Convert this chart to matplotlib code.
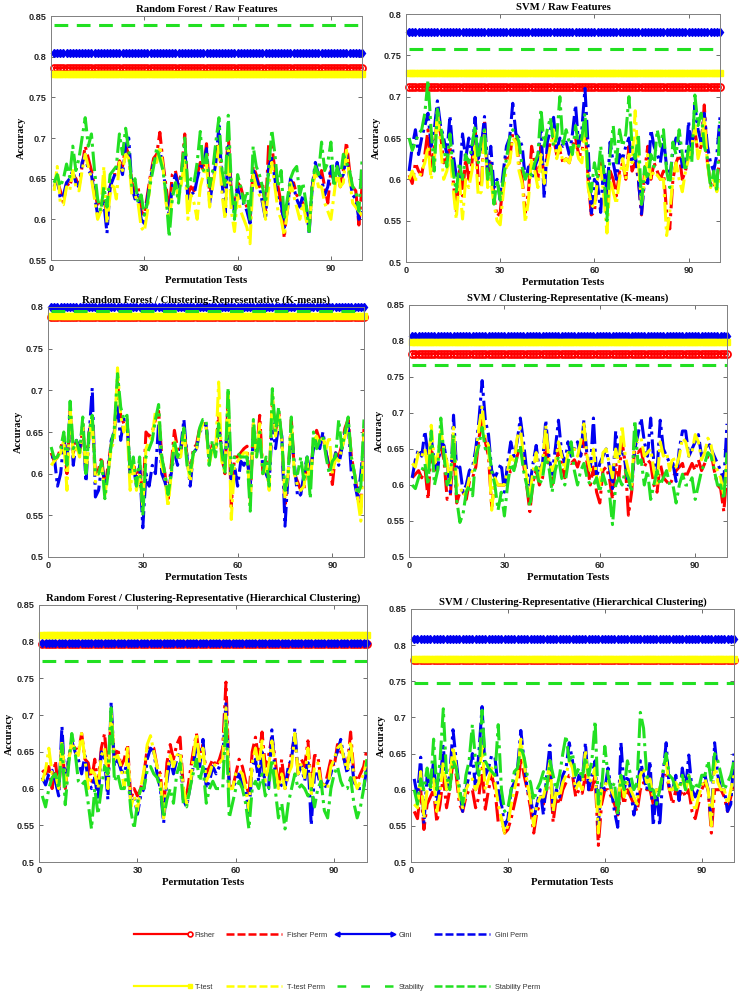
import matplotlib
matplotlib.use("Agg")
import matplotlib.pyplot as plt
import numpy as np
from matplotlib.lines import Line2D
from matplotlib.legend_handler import HandlerLine2D
from matplotlib.ticker import FormatStrFormatter

tests = np.arange(1, 101)

# ---------------- Random Forest / Raw Features
rf_raw_const = [0.786, 0.8045, 0.779, 0.8385]   # fisher, gini, t-test, stability
rf_raw_fisher_perm = [
    0.645, 0.648, 0.635, 0.62, 0.645, 0.64, 0.655, 0.65, 0.64, 0.665,
    0.69, 0.675, 0.66, 0.64, 0.615, 0.62, 0.625, 0.605, 0.64, 0.655,
    0.655, 0.672, 0.665, 0.69, 0.68, 0.645, 0.635, 0.64, 0.61, 0.605,
    0.63, 0.655, 0.675, 0.68, 0.707, 0.67, 0.64, 0.61, 0.655, 0.66,
    0.64, 0.66, 0.705, 0.63, 0.64, 0.635, 0.655, 0.67, 0.66, 0.693,
    0.63, 0.65, 0.68, 0.70, 0.65, 0.64, 0.705, 0.63, 0.615, 0.645,
    0.64, 0.625, 0.615, 0.6, 0.665, 0.655, 0.64, 0.645, 0.61, 0.693,
    0.69, 0.66, 0.64, 0.62, 0.577, 0.62, 0.64, 0.645, 0.63, 0.625,
    0.62, 0.61, 0.59, 0.64, 0.66, 0.65, 0.66, 0.64, 0.62, 0.66,
    0.65, 0.66, 0.64, 0.66, 0.695, 0.66, 0.64, 0.635, 0.593, 0.64]
rf_raw_gini_perm = [
    0.64, 0.65, 0.625, 0.63, 0.645, 0.65, 0.66, 0.645, 0.64, 0.67,
    0.68, 0.66, 0.655, 0.63, 0.605, 0.61, 0.62, 0.583, 0.64, 0.65,
    0.66, 0.67, 0.655, 0.69, 0.70, 0.64, 0.625, 0.63, 0.6, 0.595,
    0.625, 0.65, 0.67, 0.675, 0.685, 0.665, 0.63, 0.605, 0.64, 0.655,
    0.64, 0.655, 0.69, 0.625, 0.635, 0.63, 0.65, 0.665, 0.665, 0.687,
    0.62, 0.645, 0.67, 0.715, 0.645, 0.605, 0.69, 0.625, 0.61, 0.64,
    0.62, 0.62, 0.61, 0.595, 0.66, 0.65, 0.64, 0.62, 0.6, 0.665,
    0.675, 0.65, 0.62, 0.62, 0.59, 0.61, 0.65, 0.64, 0.625, 0.615,
    0.63, 0.62, 0.583, 0.64, 0.67, 0.655, 0.65, 0.63, 0.64, 0.665,
    0.645, 0.67, 0.65, 0.655, 0.68, 0.65, 0.63, 0.625, 0.6, 0.61]
rf_raw_ttest_perm = [
    0.635, 0.665, 0.62, 0.618, 0.64, 0.635, 0.66, 0.64, 0.635, 0.66,
    0.68, 0.665, 0.65, 0.625, 0.6, 0.61, 0.665, 0.595, 0.63, 0.645,
    0.625, 0.67, 0.66, 0.68, 0.675, 0.63, 0.63, 0.62, 0.59, 0.585,
    0.61, 0.65, 0.67, 0.67, 0.69, 0.665, 0.62, 0.6, 0.63, 0.645,
    0.625, 0.645, 0.675, 0.6, 0.63, 0.62, 0.6, 0.64, 0.655, 0.67,
    0.615, 0.64, 0.665, 0.69, 0.63, 0.6, 0.685, 0.61, 0.585, 0.63,
    0.61, 0.6, 0.59, 0.57, 0.655, 0.64, 0.63, 0.625, 0.6, 0.64,
    0.67, 0.64, 0.61, 0.6, 0.58, 0.61, 0.645, 0.63, 0.615, 0.6,
    0.62, 0.6, 0.588, 0.635, 0.66, 0.64, 0.64, 0.62, 0.61, 0.6,
    0.63, 0.66, 0.64, 0.645, 0.685, 0.65, 0.62, 0.615, 0.61, 0.605]
rf_raw_stab_perm = [
    0.645, 0.655, 0.64, 0.65, 0.668, 0.652, 0.69, 0.66, 0.675, 0.70,
    0.725, 0.69, 0.705, 0.66, 0.625, 0.61, 0.64, 0.615, 0.655, 0.66,
    0.665, 0.705, 0.68, 0.712, 0.685, 0.64, 0.65, 0.62, 0.63, 0.605,
    0.62, 0.645, 0.665, 0.688, 0.675, 0.66, 0.63, 0.578, 0.625, 0.645,
    0.62, 0.66, 0.70, 0.64, 0.65, 0.645, 0.67, 0.708, 0.66, 0.68,
    0.64, 0.66, 0.695, 0.725, 0.66, 0.64, 0.728, 0.64, 0.6, 0.655,
    0.64, 0.62, 0.635, 0.60, 0.69, 0.665, 0.655, 0.64, 0.62, 0.66,
    0.71, 0.68, 0.64, 0.66, 0.6, 0.625, 0.65, 0.66, 0.665, 0.63,
    0.645, 0.62, 0.585, 0.645, 0.665, 0.655, 0.695, 0.66, 0.67, 0.695,
    0.64, 0.665, 0.65, 0.68, 0.67, 0.66, 0.64, 0.635, 0.61, 0.672]

# ---------------- SVM / Raw Features
svm_raw_const = [0.7115, 0.7786, 0.729, 0.7576]
svm_raw_fisher_perm = [
    0.605, 0.595, 0.62, 0.61, 0.605, 0.63, 0.66, 0.61, 0.64, 0.675,
    0.655, 0.62, 0.625, 0.64, 0.6, 0.56, 0.61, 0.58, 0.625, 0.6,
    0.62, 0.66, 0.6, 0.59, 0.67, 0.6, 0.62, 0.58, 0.555, 0.56,
    0.6, 0.63, 0.625, 0.655, 0.65, 0.62, 0.6, 0.56, 0.585, 0.64,
    0.62, 0.6, 0.64, 0.6, 0.63, 0.645, 0.65, 0.63, 0.635, 0.62,
    0.625, 0.62, 0.64, 0.65, 0.63, 0.63, 0.67, 0.6, 0.557, 0.56,
    0.6, 0.62, 0.6, 0.56, 0.61, 0.6, 0.58, 0.61, 0.62, 0.6,
    0.64, 0.61, 0.62, 0.6, 0.557, 0.61, 0.64, 0.6, 0.62, 0.61,
    0.6, 0.61, 0.56, 0.54, 0.6, 0.62, 0.63, 0.6, 0.61, 0.63,
    0.64, 0.66, 0.63, 0.64, 0.69, 0.62, 0.595, 0.59, 0.6, 0.625]
svm_raw_gini_perm = [
    0.61, 0.64, 0.66, 0.63, 0.65, 0.665, 0.68, 0.64, 0.66, 0.695,
    0.665, 0.65, 0.63, 0.677, 0.63, 0.605, 0.6, 0.655, 0.625, 0.65,
    0.63, 0.675, 0.625, 0.64, 0.676, 0.61, 0.64, 0.59, 0.6, 0.575,
    0.61, 0.64, 0.65, 0.692, 0.655, 0.65, 0.64, 0.6, 0.615, 0.6,
    0.615, 0.625, 0.665, 0.577, 0.645, 0.66, 0.675, 0.635, 0.65, 0.64,
    0.645, 0.63, 0.655, 0.69, 0.64, 0.66, 0.71, 0.64, 0.556, 0.6,
    0.595, 0.56, 0.62, 0.58, 0.645, 0.62, 0.6, 0.63, 0.625, 0.64,
    0.65, 0.62, 0.63, 0.6, 0.558, 0.6, 0.595, 0.66, 0.64, 0.63,
    0.62, 0.65, 0.615, 0.6, 0.635, 0.65, 0.645, 0.615, 0.62, 0.67,
    0.63, 0.69, 0.66, 0.645, 0.68, 0.64, 0.62, 0.61, 0.63, 0.675]
svm_raw_ttest_perm = [
    0.6, 0.61, 0.6, 0.6, 0.61, 0.62, 0.64, 0.6, 0.62, 0.685,
    0.64, 0.6, 0.61, 0.63, 0.59, 0.552, 0.6, 0.552, 0.6, 0.59,
    0.61, 0.64, 0.58, 0.585, 0.66, 0.59, 0.6, 0.57, 0.55, 0.545,
    0.585, 0.615, 0.62, 0.65, 0.645, 0.61, 0.595, 0.548, 0.575, 0.625,
    0.61, 0.59, 0.63, 0.595, 0.62, 0.64, 0.66, 0.625, 0.64, 0.62,
    0.625, 0.62, 0.635, 0.64, 0.625, 0.62, 0.66, 0.59, 0.57, 0.565,
    0.6, 0.615, 0.58, 0.535, 0.6, 0.585, 0.57, 0.6, 0.625, 0.6,
    0.63, 0.62, 0.683, 0.62, 0.57, 0.6, 0.63, 0.6, 0.61, 0.605,
    0.6, 0.6, 0.532, 0.56, 0.6, 0.62, 0.6, 0.585, 0.61, 0.625,
    0.64, 0.665, 0.625, 0.64, 0.675, 0.62, 0.59, 0.6, 0.585, 0.6]
svm_raw_stab_perm = [
    0.65, 0.635, 0.645, 0.655, 0.66, 0.68, 0.72, 0.66, 0.61, 0.685,
    0.665, 0.64, 0.615, 0.655, 0.61, 0.585, 0.62, 0.6, 0.63, 0.62,
    0.64, 0.665, 0.62, 0.65, 0.66, 0.6, 0.62, 0.57, 0.6, 0.575,
    0.6, 0.625, 0.65, 0.66, 0.655, 0.645, 0.615, 0.6, 0.61, 0.605,
    0.62, 0.63, 0.685, 0.64, 0.66, 0.675, 0.64, 0.65, 0.70, 0.64,
    0.66, 0.645, 0.63, 0.665, 0.64, 0.65, 0.68, 0.6, 0.585, 0.62,
    0.6, 0.64, 0.61, 0.55, 0.63, 0.665, 0.62, 0.66, 0.64, 0.655,
    0.70, 0.64, 0.625, 0.655, 0.57, 0.615, 0.6, 0.63, 0.615, 0.66,
    0.64, 0.66, 0.61, 0.59, 0.645, 0.63, 0.66, 0.63, 0.61, 0.64,
    0.62, 0.702, 0.665, 0.68, 0.64, 0.625, 0.59, 0.61, 0.585, 0.67]

# ---------------- Random Forest / K-means
rf_km_const = [0.7885, 0.7995, 0.789, 0.7955]
rf_km_fisher_perm = [
    0.625, 0.615, 0.62, 0.63, 0.645, 0.6, 0.675, 0.625, 0.64, 0.625,
    0.655, 0.61, 0.65, 0.665, 0.6, 0.605, 0.62, 0.58, 0.61, 0.635,
    0.65, 0.71, 0.67, 0.66, 0.665, 0.6, 0.615, 0.59, 0.61, 0.565,
    0.65, 0.645, 0.65, 0.665, 0.675, 0.62, 0.6, 0.57, 0.61, 0.652,
    0.63, 0.625, 0.655, 0.62, 0.6, 0.63, 0.635, 0.655, 0.66, 0.66,
    0.615, 0.635, 0.625, 0.67, 0.62, 0.6, 0.69, 0.56, 0.62, 0.62,
    0.625, 0.63, 0.633, 0.57, 0.66, 0.625, 0.67, 0.6, 0.615, 0.59,
    0.69, 0.65, 0.675, 0.64, 0.56, 0.6, 0.665, 0.6, 0.59, 0.58,
    0.58, 0.62, 0.59, 0.64, 0.652, 0.64, 0.645, 0.625, 0.61, 0.587,
    0.625, 0.62, 0.635, 0.655, 0.665, 0.62, 0.6, 0.575, 0.56, 0.655]
rf_km_gini_perm = [
    0.62, 0.62, 0.585, 0.6, 0.64, 0.615, 0.675, 0.61, 0.64, 0.63,
    0.66, 0.59, 0.645, 0.703, 0.572, 0.58, 0.61, 0.59, 0.6, 0.64,
    0.65, 0.68, 0.64, 0.665, 0.665, 0.6, 0.61, 0.585, 0.61, 0.535,
    0.6, 0.585, 0.61, 0.6, 0.66, 0.6, 0.59, 0.575, 0.6, 0.625,
    0.61, 0.63, 0.665, 0.62, 0.585, 0.625, 0.63, 0.65, 0.655, 0.66,
    0.62, 0.63, 0.625, 0.655, 0.63, 0.61, 0.675, 0.59, 0.61, 0.585,
    0.615, 0.61, 0.62, 0.585, 0.645, 0.625, 0.64, 0.61, 0.6, 0.59,
    0.66, 0.63, 0.66, 0.645, 0.537, 0.6, 0.65, 0.61, 0.572, 0.575,
    0.6, 0.62, 0.6, 0.63, 0.64, 0.63, 0.65, 0.625, 0.605, 0.605,
    0.625, 0.61, 0.63, 0.65, 0.66, 0.6, 0.59, 0.57, 0.6, 0.64]
rf_km_ttest_perm = [
    0.61, 0.615, 0.62, 0.625, 0.64, 0.58, 0.68, 0.62, 0.635, 0.62,
    0.66, 0.6, 0.64, 0.67, 0.59, 0.6, 0.61, 0.575, 0.6, 0.63,
    0.64, 0.727, 0.67, 0.65, 0.66, 0.58, 0.61, 0.58, 0.6, 0.56,
    0.63, 0.64, 0.645, 0.675, 0.67, 0.61, 0.595, 0.56, 0.6, 0.64,
    0.62, 0.62, 0.65, 0.615, 0.59, 0.625, 0.63, 0.65, 0.66, 0.66,
    0.61, 0.63, 0.62, 0.71, 0.615, 0.6, 0.695, 0.545, 0.61, 0.615,
    0.62, 0.625, 0.625, 0.565, 0.66, 0.62, 0.66, 0.6, 0.61, 0.58,
    0.695, 0.645, 0.67, 0.64, 0.57, 0.6, 0.66, 0.6, 0.585, 0.58,
    0.585, 0.615, 0.585, 0.64, 0.645, 0.635, 0.645, 0.63, 0.645, 0.6,
    0.62, 0.615, 0.63, 0.645, 0.66, 0.62, 0.6, 0.57, 0.543, 0.65]
rf_km_stab_perm = [
    0.632, 0.618, 0.62, 0.63, 0.65, 0.61, 0.687, 0.63, 0.64, 0.625,
    0.668, 0.6, 0.65, 0.67, 0.6, 0.6, 0.615, 0.57, 0.6, 0.635,
    0.655, 0.72, 0.68, 0.665, 0.67, 0.6, 0.62, 0.585, 0.62, 0.55,
    0.62, 0.63, 0.64, 0.665, 0.683, 0.62, 0.6, 0.575, 0.6, 0.64,
    0.62, 0.63, 0.655, 0.61, 0.6, 0.625, 0.63, 0.655, 0.665, 0.665,
    0.61, 0.64, 0.62, 0.66, 0.625, 0.6, 0.703, 0.6, 0.62, 0.625,
    0.62, 0.62, 0.62, 0.555, 0.665, 0.62, 0.65, 0.6, 0.62, 0.585,
    0.702, 0.65, 0.68, 0.64, 0.58, 0.6, 0.668, 0.6, 0.6, 0.62,
    0.59, 0.62, 0.57, 0.65, 0.63, 0.64, 0.645, 0.62, 0.6, 0.615,
    0.62, 0.665, 0.63, 0.65, 0.668, 0.62, 0.6, 0.575, 0.585, 0.665]

# ---------------- SVM / K-means
svm_km_const = [0.7826, 0.807, 0.798, 0.766]
svm_km_fisher_perm = [
    0.61, 0.615, 0.62, 0.61, 0.625, 0.58, 0.655, 0.62, 0.63, 0.655,
    0.635, 0.58, 0.585, 0.655, 0.575, 0.59, 0.59, 0.58, 0.605, 0.61,
    0.625, 0.665, 0.69, 0.66, 0.64, 0.57, 0.605, 0.6, 0.6, 0.6,
    0.61, 0.62, 0.62, 0.64, 0.655, 0.63, 0.6, 0.563, 0.605, 0.62,
    0.6, 0.61, 0.66, 0.625, 0.6, 0.62, 0.65, 0.63, 0.61, 0.635,
    0.63, 0.635, 0.625, 0.64, 0.665, 0.63, 0.6, 0.625, 0.59, 0.575,
    0.62, 0.625, 0.61, 0.58, 0.63, 0.61, 0.66, 0.63, 0.558, 0.59,
    0.655, 0.645, 0.65, 0.625, 0.635, 0.63, 0.6, 0.59, 0.63, 0.61,
    0.605, 0.6, 0.61, 0.62, 0.625, 0.63, 0.61, 0.62, 0.63, 0.62,
    0.635, 0.62, 0.63, 0.64, 0.645, 0.62, 0.6, 0.595, 0.563, 0.62]
svm_km_gini_perm = [
    0.61, 0.635, 0.65, 0.64, 0.675, 0.64, 0.665, 0.63, 0.62, 0.66,
    0.655, 0.63, 0.59, 0.697, 0.62, 0.625, 0.59, 0.6, 0.62, 0.625,
    0.65, 0.69, 0.745, 0.69, 0.67, 0.62, 0.61, 0.62, 0.63, 0.59,
    0.63, 0.66, 0.64, 0.66, 0.693, 0.66, 0.62, 0.6, 0.63, 0.655,
    0.62, 0.63, 0.69, 0.64, 0.615, 0.65, 0.69, 0.645, 0.63, 0.66,
    0.64, 0.65, 0.66, 0.64, 0.69, 0.64, 0.62, 0.693, 0.61, 0.63,
    0.64, 0.65, 0.625, 0.595, 0.675, 0.64, 0.65, 0.63, 0.6, 0.6,
    0.65, 0.67, 0.693, 0.66, 0.64, 0.693, 0.63, 0.62, 0.69, 0.65,
    0.64, 0.63, 0.63, 0.605, 0.65, 0.675, 0.675, 0.64, 0.65, 0.66,
    0.67, 0.64, 0.645, 0.66, 0.65, 0.64, 0.63, 0.62, 0.605, 0.685]
svm_km_ttest_perm = [
    0.63, 0.625, 0.645, 0.64, 0.65, 0.62, 0.683, 0.63, 0.64, 0.675,
    0.65, 0.63, 0.6, 0.68, 0.6, 0.6, 0.585, 0.59, 0.61, 0.62,
    0.64, 0.68, 0.71, 0.665, 0.655, 0.565, 0.61, 0.6, 0.6, 0.6,
    0.62, 0.64, 0.63, 0.665, 0.68, 0.64, 0.61, 0.585, 0.62, 0.645,
    0.61, 0.63, 0.683, 0.635, 0.62, 0.63, 0.66, 0.64, 0.62, 0.645,
    0.645, 0.65, 0.64, 0.66, 0.685, 0.64, 0.62, 0.65, 0.61, 0.6,
    0.645, 0.65, 0.63, 0.61, 0.65, 0.63, 0.683, 0.64, 0.62, 0.6,
    0.67, 0.66, 0.665, 0.64, 0.645, 0.65, 0.62, 0.6, 0.66, 0.64,
    0.645, 0.62, 0.64, 0.625, 0.64, 0.665, 0.66, 0.64, 0.645, 0.67,
    0.66, 0.635, 0.645, 0.665, 0.655, 0.63, 0.62, 0.61, 0.585, 0.63]
svm_km_stab_perm = [
    0.6, 0.595, 0.61, 0.62, 0.63, 0.6, 0.675, 0.6, 0.62, 0.693,
    0.64, 0.6, 0.61, 0.67, 0.58, 0.548, 0.56, 0.59, 0.6, 0.585,
    0.64, 0.655, 0.68, 0.65, 0.655, 0.62, 0.6, 0.565, 0.59, 0.557,
    0.6, 0.63, 0.62, 0.64, 0.655, 0.62, 0.6, 0.57, 0.6, 0.625,
    0.6, 0.61, 0.64, 0.625, 0.59, 0.62, 0.64, 0.61, 0.6, 0.63,
    0.66, 0.62, 0.6, 0.62, 0.63, 0.61, 0.6, 0.6, 0.61, 0.59,
    0.615, 0.6, 0.59, 0.545, 0.6, 0.61, 0.6, 0.62, 0.61, 0.59,
    0.69, 0.63, 0.635, 0.6, 0.62, 0.58, 0.6, 0.62, 0.6, 0.61,
    0.62, 0.6, 0.6, 0.575, 0.6, 0.615, 0.6, 0.6, 0.61, 0.58,
    0.6, 0.62, 0.63, 0.645, 0.64, 0.62, 0.6, 0.6, 0.58, 0.645]

# ---------------- Random Forest / Hierarchical
rf_hc_const = [0.797, 0.7986, 0.809, 0.7737]
rf_hc_fisher_perm = [
    0.625, 0.62, 0.63, 0.6, 0.638, 0.595, 0.665, 0.6, 0.64, 0.66,
    0.655, 0.65, 0.675, 0.64, 0.635, 0.61, 0.64, 0.605, 0.655, 0.675,
    0.62, 0.7, 0.64, 0.655, 0.63, 0.64, 0.66, 0.585, 0.6, 0.59,
    0.6, 0.62, 0.655, 0.658, 0.655, 0.63, 0.62, 0.57, 0.635, 0.66,
    0.64, 0.66, 0.67, 0.6, 0.59, 0.62, 0.65, 0.675, 0.64, 0.66,
    0.62, 0.63, 0.64, 0.63, 0.64, 0.655, 0.745, 0.61, 0.6, 0.62,
    0.64, 0.63, 0.61, 0.59, 0.65, 0.67, 0.64, 0.677, 0.63, 0.645,
    0.67, 0.64, 0.6, 0.64, 0.6, 0.62, 0.65, 0.67, 0.62, 0.64,
    0.63, 0.665, 0.6, 0.645, 0.645, 0.61, 0.6, 0.62, 0.64, 0.63,
    0.66, 0.65, 0.64, 0.63, 0.677, 0.62, 0.61, 0.62, 0.63, 0.655]
rf_hc_gini_perm = [
    0.615, 0.605, 0.62, 0.625, 0.61, 0.59, 0.685, 0.6, 0.64, 0.665,
    0.65, 0.64, 0.62, 0.645, 0.61, 0.6, 0.615, 0.585, 0.65, 0.64,
    0.585, 0.718, 0.63, 0.64, 0.625, 0.62, 0.64, 0.58, 0.59, 0.565,
    0.59, 0.6, 0.64, 0.655, 0.65, 0.62, 0.6, 0.553, 0.61, 0.64,
    0.62, 0.64, 0.65, 0.585, 0.575, 0.6, 0.63, 0.66, 0.63, 0.667,
    0.6, 0.61, 0.63, 0.62, 0.63, 0.64, 0.718, 0.6, 0.6, 0.61,
    0.62, 0.605, 0.6, 0.565, 0.63, 0.64, 0.61, 0.65, 0.6, 0.6,
    0.68, 0.62, 0.6, 0.605, 0.6, 0.63, 0.64, 0.682, 0.62, 0.63,
    0.61, 0.64, 0.55, 0.62, 0.62, 0.6, 0.6, 0.61, 0.62, 0.64,
    0.65, 0.667, 0.64, 0.62, 0.655, 0.61, 0.6, 0.6, 0.6, 0.63]
rf_hc_ttest_perm = [
    0.61, 0.625, 0.655, 0.62, 0.62, 0.6, 0.665, 0.605, 0.635, 0.665,
    0.65, 0.645, 0.675, 0.64, 0.6, 0.625, 0.62, 0.6, 0.645, 0.655,
    0.6, 0.705, 0.64, 0.645, 0.63, 0.6, 0.655, 0.575, 0.59, 0.57,
    0.6, 0.625, 0.66, 0.672, 0.65, 0.63, 0.615, 0.56, 0.62, 0.645,
    0.63, 0.645, 0.65, 0.6, 0.58, 0.6, 0.64, 0.675, 0.635, 0.655,
    0.61, 0.62, 0.635, 0.63, 0.635, 0.64, 0.71, 0.6, 0.6, 0.62,
    0.625, 0.62, 0.6, 0.57, 0.635, 0.655, 0.63, 0.665, 0.61, 0.63,
    0.665, 0.63, 0.6, 0.62, 0.6, 0.62, 0.63, 0.675, 0.62, 0.635,
    0.615, 0.655, 0.59, 0.63, 0.635, 0.605, 0.605, 0.6, 0.63, 0.64,
    0.655, 0.66, 0.64, 0.625, 0.665, 0.615, 0.6, 0.61, 0.62, 0.64]
rf_hc_stab_perm = [
    0.59, 0.575, 0.6, 0.615, 0.62, 0.6, 0.66, 0.578, 0.63, 0.675,
    0.65, 0.61, 0.605, 0.61, 0.58, 0.545, 0.6, 0.565, 0.6, 0.63,
    0.62, 0.71, 0.61, 0.62, 0.6, 0.6, 0.625, 0.57, 0.545, 0.58,
    0.6, 0.6, 0.625, 0.63, 0.62, 0.615, 0.6, 0.56, 0.585, 0.6,
    0.58, 0.62, 0.635, 0.58, 0.575, 0.6, 0.62, 0.64, 0.61, 0.63,
    0.58, 0.6, 0.61, 0.6, 0.6, 0.6, 0.695, 0.56, 0.58, 0.6,
    0.61, 0.6, 0.58, 0.545, 0.6, 0.61, 0.6, 0.62, 0.59, 0.6,
    0.64, 0.6, 0.56, 0.58, 0.545, 0.58, 0.6, 0.62, 0.6, 0.605,
    0.6, 0.59, 0.6, 0.575, 0.6, 0.61, 0.57, 0.56, 0.6, 0.62,
    0.63, 0.61, 0.6, 0.6, 0.615, 0.58, 0.56, 0.575, 0.6, 0.64]

# ---------------- SVM / Hierarchical
svm_hc_const = [0.780, 0.8085, 0.7805, 0.748]
svm_hc_fisher_perm = [
    0.57, 0.56, 0.6, 0.545, 0.58, 0.59, 0.6, 0.555, 0.58, 0.62,
    0.575, 0.6, 0.64, 0.62, 0.58, 0.57, 0.59, 0.6, 0.6, 0.575,
    0.59, 0.63, 0.573, 0.6, 0.62, 0.6, 0.555, 0.56, 0.54, 0.545,
    0.56, 0.58, 0.6, 0.645, 0.62, 0.6, 0.575, 0.54, 0.57, 0.58,
    0.58, 0.6, 0.63, 0.555, 0.59, 0.58, 0.6, 0.61, 0.62, 0.62,
    0.59, 0.6, 0.595, 0.62, 0.6, 0.6, 0.62, 0.523, 0.58, 0.6,
    0.6, 0.59, 0.58, 0.565, 0.6, 0.58, 0.6, 0.59, 0.58, 0.57,
    0.6, 0.61, 0.6, 0.6, 0.58, 0.59, 0.6, 0.62, 0.625, 0.6,
    0.58, 0.6, 0.59, 0.6, 0.59, 0.6, 0.57, 0.56, 0.58, 0.6,
    0.61, 0.6, 0.54, 0.6, 0.6, 0.6, 0.59, 0.57, 0.59, 0.605]
svm_hc_gini_perm = [
    0.615, 0.59, 0.645, 0.553, 0.62, 0.6, 0.64, 0.58, 0.61, 0.66,
    0.6, 0.62, 0.683, 0.64, 0.6, 0.57, 0.6, 0.62, 0.65, 0.6,
    0.65, 0.715, 0.62, 0.63, 0.648, 0.645, 0.6, 0.58, 0.55, 0.56,
    0.6, 0.61, 0.63, 0.682, 0.64, 0.6, 0.59, 0.56, 0.58, 0.6,
    0.565, 0.62, 0.662, 0.57, 0.6, 0.59, 0.62, 0.63, 0.665, 0.64,
    0.6, 0.62, 0.61, 0.665, 0.6, 0.62, 0.64, 0.55, 0.61, 0.6,
    0.63, 0.6, 0.57, 0.548, 0.665, 0.6, 0.62, 0.6, 0.565, 0.59,
    0.64, 0.62, 0.6, 0.64, 0.55, 0.6, 0.55, 0.62, 0.665, 0.6,
    0.6, 0.62, 0.585, 0.63, 0.6, 0.648, 0.6, 0.59, 0.6, 0.61,
    0.62, 0.6, 0.555, 0.665, 0.62, 0.6, 0.6, 0.57, 0.58, 0.65]
svm_hc_ttest_perm = [
    0.58, 0.575, 0.625, 0.56, 0.6, 0.6, 0.615, 0.57, 0.595, 0.64,
    0.6, 0.615, 0.66, 0.63, 0.59, 0.575, 0.6, 0.61, 0.615, 0.6,
    0.61, 0.66, 0.6, 0.615, 0.63, 0.61, 0.58, 0.56, 0.54, 0.55,
    0.58, 0.6, 0.62, 0.67, 0.635, 0.61, 0.585, 0.55, 0.58, 0.59,
    0.59, 0.61, 0.64, 0.57, 0.6, 0.59, 0.61, 0.62, 0.64, 0.63,
    0.6, 0.61, 0.6, 0.655, 0.61, 0.615, 0.63, 0.54, 0.6, 0.605,
    0.615, 0.6, 0.59, 0.58, 0.62, 0.59, 0.61, 0.6, 0.59, 0.58,
    0.62, 0.63, 0.61, 0.615, 0.59, 0.6, 0.6, 0.625, 0.64, 0.6,
    0.6, 0.61, 0.6, 0.615, 0.6, 0.62, 0.59, 0.57, 0.59, 0.605,
    0.615, 0.6, 0.55, 0.64, 0.61, 0.6, 0.6, 0.58, 0.6, 0.62]
svm_hc_stab_perm = [
    0.6, 0.58, 0.615, 0.6, 0.63, 0.6, 0.67, 0.6, 0.64, 0.712,
    0.62, 0.6, 0.64, 0.63, 0.6, 0.58, 0.62, 0.64, 0.69, 0.64,
    0.62, 0.71, 0.64, 0.63, 0.625, 0.62, 0.69, 0.6, 0.57, 0.575,
    0.6, 0.625, 0.63, 0.66, 0.645, 0.62, 0.61, 0.585, 0.6, 0.61,
    0.625, 0.6, 0.64, 0.62, 0.6, 0.62, 0.65, 0.675, 0.64, 0.65,
    0.62, 0.63, 0.615, 0.645, 0.62, 0.64, 0.695, 0.58, 0.6, 0.66,
    0.62, 0.6, 0.61, 0.565, 0.62, 0.6, 0.64, 0.62, 0.6, 0.61,
    0.707, 0.685, 0.62, 0.6, 0.6, 0.58, 0.6, 0.625, 0.65, 0.62,
    0.615, 0.6, 0.6, 0.62, 0.6, 0.62, 0.6, 0.61, 0.6, 0.62,
    0.62, 0.64, 0.61, 0.65, 0.64, 0.62, 0.6, 0.61, 0.62, 0.64]

labels = ["Fisher", "Fisher Perm", "Gini", "Gini Perm",
          "T-test", "T-test Perm", "Stability", "Stability Perm"]

RED = "#ff0000"
BLUE = "#0000f0"
YELLOW = "#ffff00"
GREEN = "#22e022"
SERIF = "Liberation Serif"
SANS = "Liberation Sans"

panels = [
    ("Random Forest / Raw Features", (0.55, 0.85), [51, 16, 362, 260],
     rf_raw_const, [rf_raw_fisher_perm, rf_raw_gini_perm, rf_raw_ttest_perm, rf_raw_stab_perm]),
    ("SVM / Raw Features", (0.5, 0.8), [406, 14, 720, 262],
     svm_raw_const, [svm_raw_fisher_perm, svm_raw_gini_perm, svm_raw_ttest_perm, svm_raw_stab_perm]),
    ("Random Forest / Clustering-Representative (K-means)", (0.5, 0.8), [48, 307, 364, 557],
     rf_km_const, [rf_km_fisher_perm, rf_km_gini_perm, rf_km_ttest_perm, rf_km_stab_perm]),
    ("SVM / Clustering-Representative (K-means)", (0.5, 0.85), [409, 305, 727, 557],
     svm_km_const, [svm_km_fisher_perm, svm_km_gini_perm, svm_km_ttest_perm, svm_km_stab_perm]),
    ("Random Forest / Clustering-Representative (Hierarchical Clustering)", (0.5, 0.85), [39, 605, 367, 862],
     rf_hc_const, [rf_hc_fisher_perm, rf_hc_gini_perm, rf_hc_ttest_perm, rf_hc_stab_perm]),
    ("SVM / Clustering-Representative (Hierarchical Clustering)", (0.5, 0.85), [411, 609, 734, 862],
     svm_hc_const, [svm_hc_fisher_perm, svm_hc_gini_perm, svm_hc_ttest_perm, svm_hc_stab_perm]),
]

W, H = 741, 992
fig = plt.figure(figsize=(W / 100, H / 100), dpi=100)


def draw_panel(box, title, ylim, consts, perms):
    l, t, r, b = box
    ax = fig.add_axes([l / W, 1 - b / H, (r - l) / W, (b - t) / H])
    fisher, gini, ttest, stab = consts
    flat = np.ones(len(tests))
    ax.plot(tests, fisher * flat, color=RED, lw=1.5, marker="o", ms=5,
            mfc="none", mew=1.3, clip_on=False)
    ax.plot(tests, perms[0], color=RED, lw=2.2, ls="-.")
    ax.plot(tests, gini * flat, color=BLUE, lw=1.5, marker="d", ms=4.5,
            clip_on=False)
    ax.plot(tests, perms[1], color=BLUE, lw=2.2, ls="-.")
    ax.plot(tests, ttest * flat, color=YELLOW, lw=2, marker="s", ms=4.5,
            clip_on=False)
    ax.plot(tests, perms[2], color=YELLOW, lw=2.2, ls="-.")
    ax.plot(tests, stab * flat, color=GREEN, lw=2.2, ls=(0, (4.5, 2.8)))
    ax.plot(tests, perms[3], color=GREEN, lw=2.2, ls="-.")

    ax.set_xlim(0, 100)
    ax.set_ylim(*ylim)
    ax.set_xticks([0, 30, 60, 90])
    ax.set_yticks(np.arange(ylim[0], ylim[1] + 0.001, 0.05))
    ax.yaxis.set_major_formatter(FormatStrFormatter("%g"))
    ax.tick_params(direction="in", top=True, right=True, length=3,
                   width=0.6, color="#555555", pad=3)
    for lab in ax.get_xticklabels() + ax.get_yticklabels():
        lab.set_fontfamily(SANS)
        lab.set_fontweight("bold")
        lab.set_fontsize(6.6)
        lab.set_color("#262626")
    for sp in ax.spines.values():
        sp.set_color("#808080")
        sp.set_linewidth(0.7)
    ax.set_title(title, fontfamily=SERIF, fontweight="bold", fontsize=7.7,
                 pad=3)
    ax.set_xlabel("Permutation Tests", fontfamily=SERIF, fontweight="bold",
                  fontsize=7.7, labelpad=2)
    ax.set_ylabel("Accuracy", fontfamily=SERIF, fontweight="bold",
                  fontsize=7.5, labelpad=2)
    return ax


for title, ylim, box, consts, perms in panels:
    draw_panel(box, title, ylim, consts, perms)


class EndMarkers(HandlerLine2D):
    """Legend line with its markers sitting at the ends (0 = left, 1 = right)."""

    def __init__(self, ends):
        super().__init__()
        self.ends = ends

    def create_artists(self, legend, orig_handle, xdescent, ydescent,
                       width, height, fontsize, trans):
        xs = [-xdescent, -xdescent + width]
        y = (height - ydescent) / 2
        line = Line2D(xs, [y, y])
        self.update_prop(line, orig_handle, legend)
        line.set_marker("None")
        line.set_transform(trans)
        arts = [line]
        for idx, mk in self.ends:
            m = Line2D([xs[idx]], [y])
            self.update_prop(m, orig_handle, legend)
            m.set_linestyle("None")
            m.set_marker(mk)
            m.set_transform(trans)
            arts.append(m)
        return arts


h_fisher = Line2D([], [], color=RED, lw=1.6, marker="o", ms=3.5, mfc="white",
                  mew=1.2)
h_fisher_p = Line2D([], [], color=RED, lw=1.8, ls=(0, (3.2, 1.2)))
h_gini = Line2D([], [], color=BLUE, lw=1.6, marker=">", ms=3.5)
h_gini_p = Line2D([], [], color=BLUE, lw=1.8, ls=(0, (3.2, 1.2)))
h_ttest = Line2D([], [], color=YELLOW, lw=1.6, marker="s", ms=3.5)
h_ttest_p = Line2D([], [], color=YELLOW, lw=1.8, ls=(0, (3.2, 1.2)))
h_stab = Line2D([], [], color=GREEN, lw=1.8, ls=(0, (3.5, 6)))
h_stab_p = Line2D([], [], color=GREEN, lw=1.8, ls=(0, (3.2, 1.2)))

handles = [h_fisher, h_ttest, h_fisher_p, h_ttest_p,
           h_gini, h_stab, h_gini_p, h_stab_p]
order = [0, 4, 1, 5, 2, 6, 3, 7]
fig.legend(handles, [labels[i] for i in order], ncol=4, frameon=False,
           loc="center left", bbox_to_anchor=(130 / W, 1 - 961 / H),
           handlelength=7.6, handletextpad=0.7,
           columnspacing=1.4, labelspacing=6.1, borderpad=0,
           prop={"family": SANS, "size": 5.3}, labelcolor="#333333",
           handler_map={h_fisher: EndMarkers([(1, "o")]),
                        h_ttest: EndMarkers([(1, "s")]),
                        h_gini: EndMarkers([(0, "<"), (1, ">")])})

fig.savefig("out.png", dpi=100)
